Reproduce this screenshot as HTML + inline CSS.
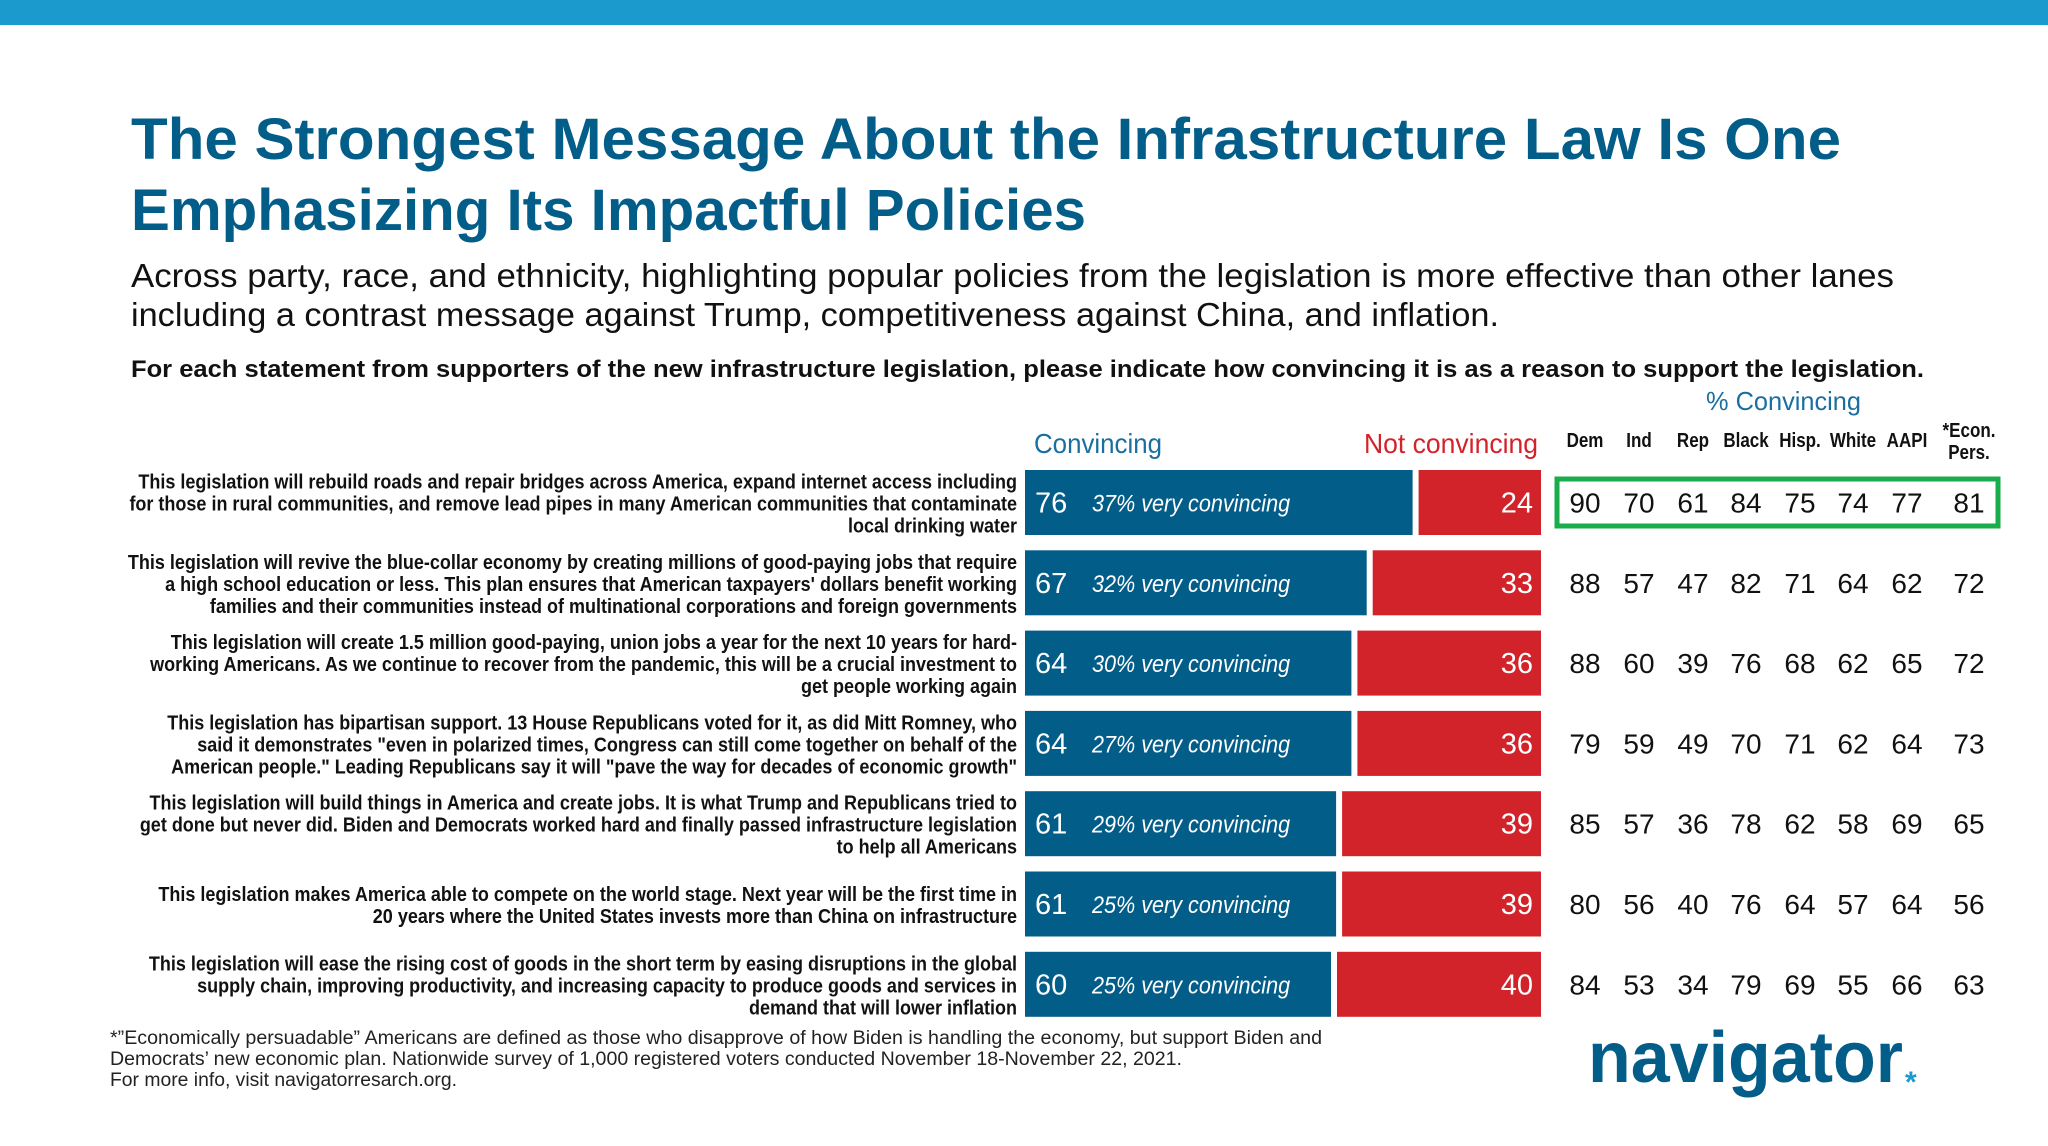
<!DOCTYPE html>
<html><head><meta charset="utf-8"><style>
html,body{margin:0;padding:0;background:#fff;}
svg{display:block;font-family:"Liberation Sans",sans-serif;}
</style></head><body>
<svg id="chart" width="2048" height="1146" viewBox="0 0 2048 1146" xmlns="http://www.w3.org/2000/svg">
<rect x="0" y="0" width="2048" height="25" fill="#1a9acd"/>
<g id="hdr">
<text class="fit" data-w="1710" x="131" y="159" font-size="58" font-weight="bold" fill="#035d89">The Strongest Message About the Infrastructure Law Is One</text>
<text class="fit" data-w="955" x="131" y="230" font-size="58" font-weight="bold" fill="#035d89">Emphasizing Its Impactful Policies</text>
<text class="fit" data-w="1763" x="131" y="287" font-size="33" fill="#111">Across party, race, and ethnicity, highlighting popular policies from the legislation is more effective than other lanes</text>
<text class="fit" data-w="1368" x="131" y="326" font-size="33" fill="#111">including a contrast message against Trump, competitiveness against China, and inflation.</text>
<text class="fit" data-w="1793" x="131" y="377" font-size="24" font-weight="bold" fill="#111">For each statement from supporters of the new infrastructure legislation, please indicate how convincing it is as a reason to support the legislation.</text>
<text class="fit" data-w="155" x="1706" y="410" font-size="26" fill="#1a6fa0">% Convincing</text>
<text class="fit" data-w="128" x="1034" y="453" font-size="28" fill="#1a6fa0">Convincing</text>
<text class="fit" data-w="174" x="1364" y="453" font-size="28" fill="#d2232a">Not convincing</text>
</g>
<g id="cols"></g>
<rect x="1557" y="479" width="441" height="47" fill="none" stroke="#1aad4b" stroke-width="5"/>
<g id="rows"></g>
<g>
<text class="fit" data-w="1212" x="110" y="1044" font-size="19" fill="#222">*”Economically persuadable” Americans are defined as those who disapprove of how Biden is handling the economy, but support Biden and</text>
<text class="fit" data-w="1072" x="110" y="1065" font-size="19" fill="#222">Democrats’ new economic plan. Nationwide survey of 1,000 registered voters conducted November 18-November 22, 2021.</text>
<text class="fit" data-w="347" x="110" y="1086" font-size="19" fill="#222">For more info, visit navigatorresarch.org.</text>
</g>
<text class="fit" data-w="315" x="1588" y="1082" font-size="72" font-weight="bold" fill="#035d89">navigator</text>
<text x="1905" y="1092" font-size="30" font-weight="bold" fill="#1a9acd">*</text>
</svg>
<script>
const statements = [
 ["This legislation will rebuild roads and repair bridges across America, expand internet access including","for those in rural communities, and remove lead pipes in many American communities that contaminate","local drinking water"],
 ["This legislation will revive the blue-collar economy by creating millions of good-paying jobs that require","a high school education or less. This plan ensures that American taxpayers' dollars benefit working","families and their communities instead of multinational corporations and foreign governments"],
 ["This legislation will create 1.5 million good-paying, union jobs a year for the next 10 years for hard-","working Americans. As we continue to recover from the pandemic, this will be a crucial investment to","get people working again"],
 ["This legislation has bipartisan support. 13 House Republicans voted for it, as did Mitt Romney, who","said it demonstrates \"even in polarized times, Congress can still come together on behalf of the","American people.\" Leading Republicans say it will \"pave the way for decades of economic growth\""],
 ["This legislation will build things in America and create jobs. It is what Trump and Republicans tried to","get done but never did. Biden and Democrats worked hard and finally passed infrastructure legislation","to help all Americans"],
 ["This legislation makes America able to compete on the world stage. Next year will be the first time in","20 years where the United States invests more than China on infrastructure"],
 ["This legislation will ease the rising cost of goods in the short term by easing disruptions in the global","supply chain, improving productivity, and increasing capacity to produce goods and services in","demand that will lower inflation"]
];
const convincing = [76,67,64,64,61,61,60];
const notConvincing = [24,33,36,36,39,39,40];
const veryConvincing = [37,32,30,27,29,25,25];
const groups = ["Dem","Ind","Rep","Black","Hisp.","White","AAPI","*Econ.|Pers."];
const groupValues = [
 [90,70,61,84,75,74,77,81],
 [88,57,47,82,71,64,62,72],
 [88,60,39,76,68,62,65,72],
 [79,59,49,70,71,62,64,73],
 [85,57,36,78,62,58,69,65],
 [80,56,40,76,64,57,64,56],
 [84,53,34,79,69,55,66,63]
];
const NS="http://www.w3.org/2000/svg";
const X0=1025, XR=1541, GAP=6, UNIT=(XR-X0-GAP)/100;
const xScale=v=>v*UNIT;
const ROW0=470, ROWH=80.3, BARH=65;
const yRow=i=>ROW0+i*ROWH;
const colX=[1585,1639,1693,1746,1800,1853,1907,1969];
function el(tag,attrs,parent,txt){const e=document.createElementNS(NS,tag);for(const k in attrs)e.setAttribute(k,attrs[k]);if(txt!==undefined)e.textContent=txt;parent.appendChild(e);return e;}
const cols=document.getElementById('cols'), rows=document.getElementById('rows');
groups.forEach((g,j)=>{
  const parts=g.split('|');
  parts.forEach((p,k)=>{
    const y=parts.length>1?437+k*22:447;
    const t=el('text',{x:colX[j],y:y,'text-anchor':'middle','font-size':20,'font-weight':'bold',fill:'#111'},cols,p);
    
    
    t.classList.add('sq');
  });
});
convincing.forEach((c,i)=>{
  const top=yRow(i), mid=top+BARH/2;
  const g=el('g',{},rows);
  
  
  const lines=statements[i];
  const lh=22, firstY=mid+8-(lines.length-1)*lh/2;
  lines.forEach((ln,k)=>{
    const t=el('text',{x:1017,y:firstY+k*lh,'text-anchor':'end','font-size':20,'font-weight':'bold',fill:'#111'},g,ln);
    
    
    t.classList.add('lab');
  });
  const wC=xScale(c);
  const b=el('rect',{x:X0,y:top,width:wC,height:BARH,fill:'#035d89'},g);
  
  
  const wN=xScale(notConvincing[i]);
  const r=el('rect',{x:XR-wN,y:top,width:wN,height:BARH,fill:'#d2232a'},g);
  
  
  const n=el('text',{x:X0+10,y:mid+10,'font-size':29,fill:'#fff'},g,c);
  
  
  const v=el('text',{x:1092,y:mid+9,'font-size':24,'font-style':'italic',fill:'#fff'},g,veryConvincing[i]+'% very convincing');
  
  
  v.classList.add('vc');
  const nn=el('text',{x:XR-8,y:mid+10,'text-anchor':'end','font-size':29,fill:'#fff'},g,notConvincing[i]);
  
  
  groupValues[i].forEach((val,j)=>{
    const t=el('text',{x:colX[j],y:mid+10,'text-anchor':'middle','font-size':28,fill:'#111'},g,val);
    
    
  });
});
function squeeze(t,k){const w=t.getComputedTextLength();t.setAttribute('textLength',w*k);t.setAttribute('lengthAdjust','spacingAndGlyphs');}
document.querySelectorAll('.fit').forEach(t=>{t.setAttribute('textLength',t.getAttribute('data-w'));t.setAttribute('lengthAdjust','spacingAndGlyphs');});
document.querySelectorAll('.lab').forEach(t=>squeeze(t,0.9));
document.querySelectorAll('.vc').forEach(t=>squeeze(t,0.9));
document.querySelectorAll('.sq').forEach(t=>squeeze(t,0.85));
</script>
</body></html>
